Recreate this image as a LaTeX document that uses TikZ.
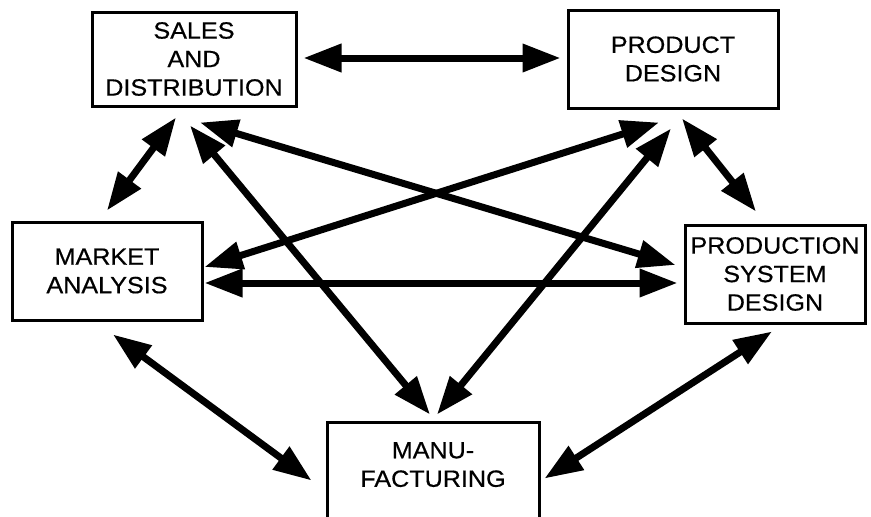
\documentclass[tikz,border=0pt]{standalone}
\usepackage{fontspec}
\setmainfont{Liberation Sans}[FakeStretch=1.07,FakeBold=0.6]
\usetikzlibrary{arrows.meta,calc}
\tikzset{
  box/.style={draw, line width=3pt, align=center, inner sep=0pt,
    font=\fontsize{23.5}{28.5}\selectfont},
  link/.style={line width=7pt,
    {Triangle[length=38pt,width=27pt]}-{Triangle[length=38pt,width=27pt]}}
}
\begin{document}
\begin{tikzpicture}[x=1pt,y=-1pt]
\useasboundingbox (0,0) rectangle (871,517);
\node[box, minimum width=204pt, minimum height=94pt] (sales) at (194,59) {SALES\\AND\\DISTRIBUTION};
\node[box, minimum width=210pt, minimum height=98pt] (prod) at (673,59) {PRODUCT\\DESIGN};
\node[box, minimum width=190pt, minimum height=98pt] (market) at (107,271) {MARKET\\ANALYSIS};
\node[box, minimum width=180pt, minimum height=98pt] (psd) at (775,274) {PRODUCTION\\SYSTEM\\DESIGN};
\node[box, minimum width=212pt, minimum height=122pt] (manu) at (433,483) {MANU-\\FACTURING\\\strut};

\draw[link] ($(sales.east)+(6,-1)$) -- ($(prod.west)+(-6,-1)$);
\draw[link] ($(sales.south)+(-18,10)$) -- ($(market.north)+(0,-10)$);
\draw[link] ($(sales.south)+(-4,18)$) -- ($(manu.north)+(-3,-6)$);
\draw[link] ($(sales.south)+(6,15)$) -- ($(psd.west)+(-8,-9)$);
\draw[link] ($(prod.south)+(-14,13)$) -- ($(market.east)+(1,-4)$);
\draw[link] ($(prod.south)+(-2,19)$) -- ($(manu.north)+(4,-6)$);
\draw[link] ($(prod.south)+(9,9)$) -- ($(psd.north)+(-19,-12)$);
\draw[link] ($(market.east)+(1,12)$) -- ($(psd.west)+(-6,9)$);
\draw[link] ($(market.south)+(6,13)$) -- ($(manu.north west)+(-14,60)$);
\draw[link] ($(psd.south)+(-3,7)$) -- ($(manu.north east)+(4,58)$);
\end{tikzpicture}
\end{document}
